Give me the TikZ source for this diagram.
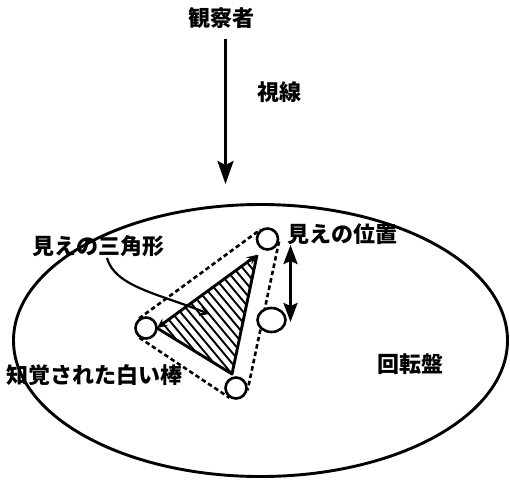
\documentclass[tikz,border=0pt]{standalone}
\usepackage{fontspec}
\newfontfamily\jp{Noto Sans CJK JP}
\usetikzlibrary{arrows.meta,calc,shapes.geometric}
\begin{document}
\begin{tikzpicture}[x=1pt,y=-1pt,
  lbl/.style={font=\jp\bfseries\fontsize{22}{25}\selectfont, inner sep=0pt},
  ring/.style={circle, draw, line width=2.6pt, fill=white, minimum size=21pt, inner sep=0pt},
  dots/.style={line width=2.6pt, dash pattern=on 4.5pt off 3pt},
  bold/.style={line width=2.9pt}]
\useasboundingbox (0,0) rectangle (510,479);
% turntable
\draw[bold] (260.5,340.5) ellipse [x radius=247, y radius=136];
% viewer and line of sight
\node[lbl] (obs) at (221.5,18) {観察者};
\node[lbl] (sight) at (279,92) {視線};
\coordinate (ve) at (225.5,184);
\draw[bold, -{Stealth[length=23pt, width=16pt, inset=4pt]}] (obs.south -| ve) ++(0,10) coordinate (vs) (vs) -- (ve);
% hatched triangle
\coordinate (T) at (257,255);
\coordinate (L) at (157,328);
\coordinate (B) at (232,374);
\begin{scope}
  \clip (T) -- (L) -- (B) -- cycle;
  \foreach \x in {40,49,...,300} \draw[line width=1.9pt] (\x,230) -- ++(130,156);
\end{scope}
\draw[bold, {Stealth[length=10pt, width=9pt]}-{Stealth[length=10pt, width=9pt]}] (L) -- (T);
\draw[bold, line join=round] (T) -- (B) -- (L);
% rods
\node[ring] (ct) at (267.5,239) {};
\node[ring] (cl) at (146,328) {};
\node[ring] (cb) at (236,388) {};
\draw[dots] (cl.126) -- (ct.126);
\draw[dots] (cl.-124) -- (cb.-124);
\draw[dots] (ct.-12) -- (cb.-12);
\draw[bold] (cl.east) -- (L);
\node[ellipse, draw, line width=2.6pt, fill=white, minimum width=28pt, minimum height=24pt, inner sep=0pt] (ce) at (271.5,320) {};
% movement arrow
\coordinate (m1) at (290.5,245);
\coordinate (m2) at (290.5,322);
\draw[bold, {Stealth[length=19pt, width=14pt, inset=3pt]}-{Stealth[length=19pt, width=14pt, inset=3pt]}] (m1) -- (m2);
% labels
\node[lbl] (ltri) at (98,246) {見えの三角形};
\node[lbl] (lpos) at (342,234) {見えの位置};
\node[lbl] (lrod) at (94,375) {知覚された白い棒};
\node[lbl] (ltab) at (410,364) {回転盤};
\coordinate (lead) at (107,258);
\coordinate (leadend) at (209,314);
\draw[line width=2.2pt, -{Straight Barb[length=7pt, width=9pt]}] (lead) .. controls (115,287) and (160,294) .. (leadend);
\end{tikzpicture}
\end{document}
